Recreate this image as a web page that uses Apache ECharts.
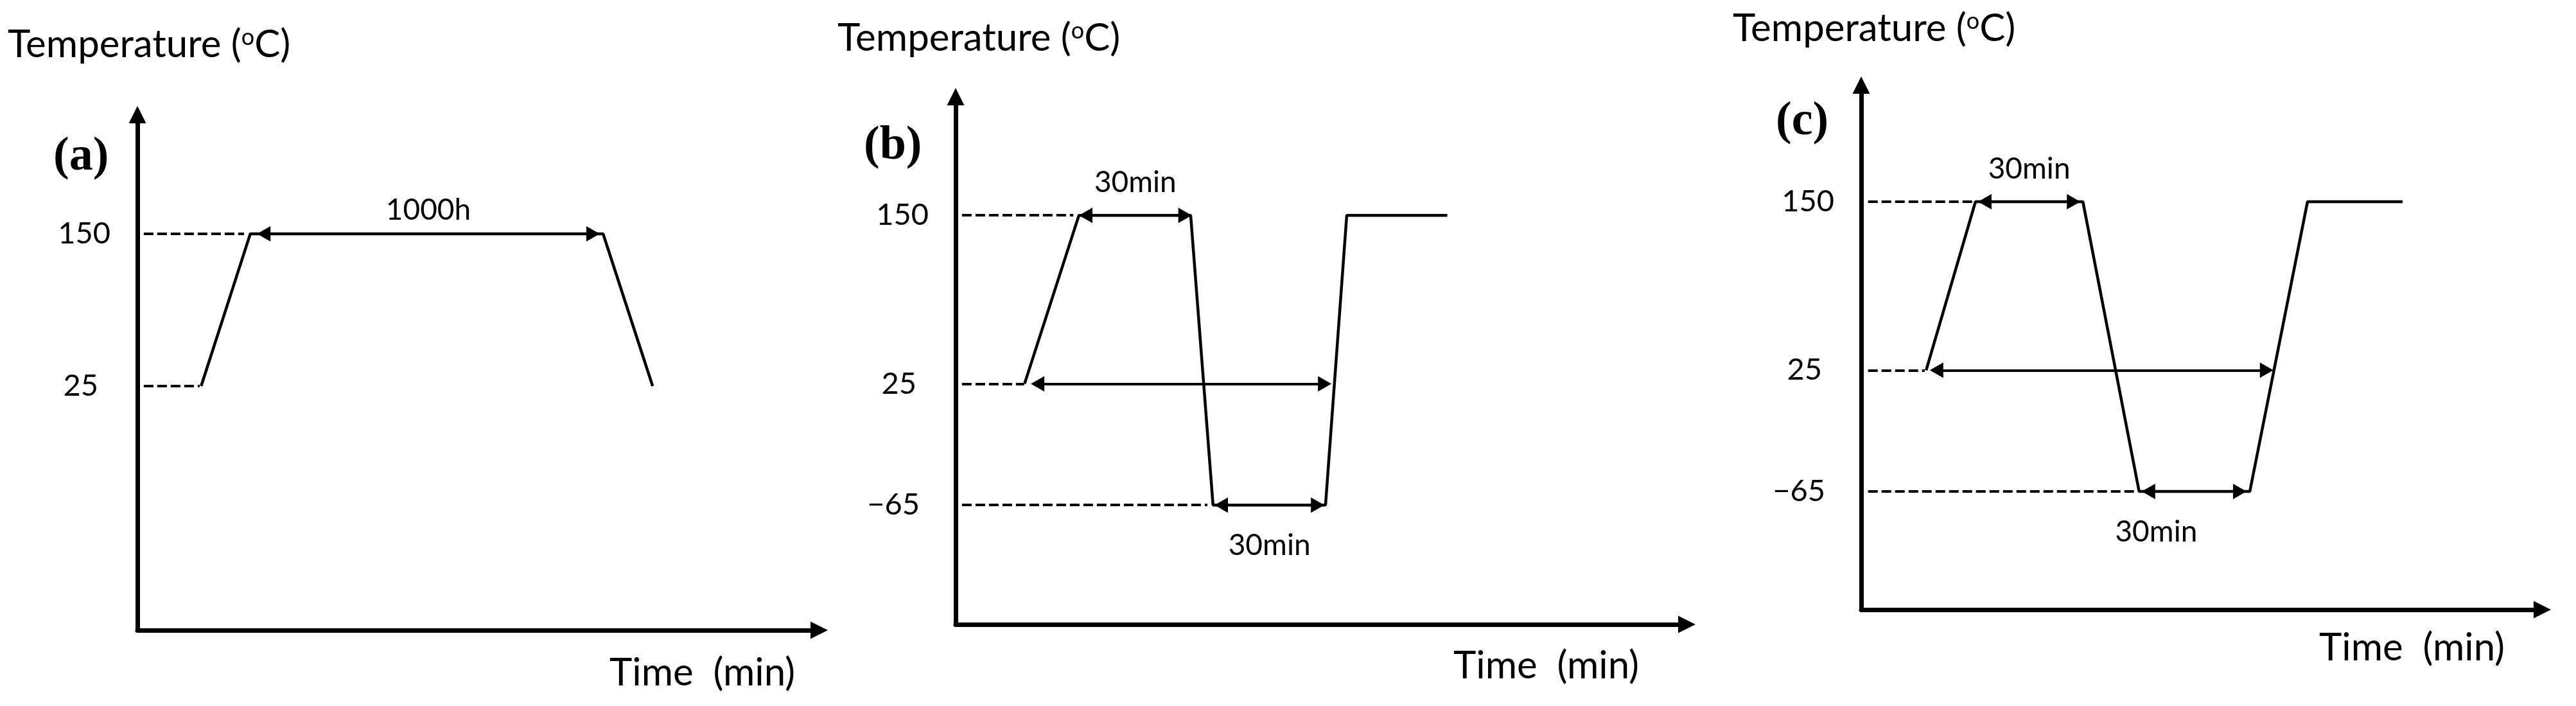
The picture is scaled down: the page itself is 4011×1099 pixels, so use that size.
<!DOCTYPE html>
<html><head><meta charset="utf-8">
<script src="https://cdn.jsdelivr.net/npm/echarts@6/dist/echarts.min.js"></script>
<style>html,body{margin:0;padding:0;background:#fff}#c{width:4011px;height:1099px}</style>
</head><body><div id="c"></div>
<script>
// ---------------- data ----------------
const panelLetters = ['(a)', '(b)', '(c)'];
const yTitle = 'Temperature';
const xTitle = 'Time  (min)';
const yTicksA = [150, 25];
const yTicksBC = [150, 25, -65];
// temperature profiles [time, temperature]
const profileA = [[17.1, 25], [30.3, 150], [125, 150], [138.3, 25]];
const profileB = [[18.5, 25], [33.1, 150], [63.1, 150], [69.1, -65], [99.3, -65], [105, 150], [132, 150]];
const profileC = [[17.9, 25], [31.5, 150], [61.1, 150], [76.6, -65], [107.1, -65], [123, 150], [149.2, 150]];
// dashed guide lines [level, xStart, xEnd]
const guidesA = [[150, 1.7, 28.6], [25, 1.7, 16.7]];
const guidesB = [[150, 1.7, 31.6], [25, 1.7, 18.4], [-65, 1.7, 67.6]];
const guidesC = [[150, 1.9, 30.8], [25, 1.9, 17.5], [-65, 1.9, 75.9]];
// dimension arrows [level, xStart, xEnd, label]
const arrowsA = [[150, 32.1, 124.1, '1000h']];
const arrowsB = [[150, 33.1, 63.4, '30min'], [25, 20.2, 100.9, ''], [-65, 69.5, 99.0, '30min']];
const arrowsC = [[150, 32.2, 60.4, '30min'], [25, 18.9, 113.6, ''], [-65, 77.3, 106.2, '30min']];
// axis ranges
const xMax = [183, 196.3, 187.7];
const yMin = [-175.4, -153.5, -152.7];
const yMax = [247.8, 238, 236.5];

// ---------------- layout / style ----------------
const FONT = 'Lato';
const grids = [
  { left: 214, top: 178.5, width: 1061.5, height: 802.4 },
  { left: 1488, top: 150.5, width: 1138.5, height: 821.4 },
  { left: 2898, top: 132.5, width: 1060.5, height: 816.6 }
];
const labelCfg = [
  { top: { dist: 14, pad: [0, 0, 0, 0] }, bottom: null },
  { top: { dist: 28, pad: [0, 0, 0, 0] }, bottom: { dist: 40, pad: [0, 0, 0, 0] } },
  { top: { dist: 28, pad: [0, 0, 0, 0] }, bottom: { dist: 40, pad: [0, 118, 0, 0] } }
];
const titlePos = [
  { yx: 12, yy: 70, lx: 83, ly: 245, tx: 949, ty: 1048 },
  { yx: 1304, yy: 60, lx: 1345, ly: 228, tx: 2263, ty: 1037 },
  { yx: 2698, yy: 45, lx: 2765, ly: 190, tx: 3611, ty: 1009 }
];
const ARROW_LEN = 21, ARROW_W = 24;

const profiles = [profileA, profileB, profileC];
const guides = [guidesA, guidesB, guidesC];
const arrows = [arrowsA, arrowsB, arrowsC];
const ticks = [yTicksA, yTicksBC, yTicksBC];

function fmtTick(v) {
  const s = v < 0 ? '\u2212' + Math.abs(v) : String(v);
  if (v === 150) return '{p0|' + s + '}';
  if (v === 25) return '{p1|' + s + '}';
  return '{p2|' + s + '}';
}

const xAxes = [], yAxes = [], series = [], graphic = [];
for (let i = 0; i < 3; i++) {
  xAxes.push({
    type: 'value', gridIndex: i, min: 0, max: xMax[i],
    axisLine: { show: true, onZero: false, symbol: ['none', 'triangle'], symbolSize: [27, 27],
      lineStyle: { color: '#000', width: 7 } },
    axisTick: { show: false }, axisLabel: { show: false }, splitLine: { show: false }
  });
  yAxes.push({
    type: 'value', gridIndex: i, min: yMin[i], max: yMax[i],
    axisLine: { show: true, onZero: false, symbol: ['none', 'triangle'], symbolSize: [27, 27],
      lineStyle: { color: '#000', width: 7 } },
    axisTick: { show: false }, splitLine: { show: false },
    axisLabel: {
      show: true, customValues: ticks[i], margin: 42, formatter: fmtTick,
      color: '#000', fontFamily: FONT, fontSize: 47,
      rich: {
        p0: { fontFamily: FONT, fontSize: 47, color: '#000', padding: [0, 0, 0, 0] },
        p1: { fontFamily: FONT, fontSize: 47, color: '#000', padding: [0, 19, 0, 0] },
        p2: { fontFamily: FONT, fontSize: 47, color: '#000', padding: [0, 14, 0, 0] }
      }
    }
  });

  const inset = (ARROW_LEN / 2) * xMax[i] / grids[i].width;
  const mlData = [];
  guides[i].forEach(g => {
    mlData.push([
      { coord: [g[1], g[0]], symbol: 'none', lineStyle: { type: [15, 6], width: 4, color: '#000' }, label: { show: false } },
      { coord: [g[2], g[0]], symbol: 'none' }
    ]);
  });
  arrows[i].forEach(a => {
    const isBottom = a[0] < 0;
    const lc = isBottom ? labelCfg[i].bottom : labelCfg[i].top;
    mlData.push([
      {
        coord: [a[1] + inset, a[0]], symbol: 'triangle',
        lineStyle: { type: 'solid', width: 4, color: '#000' },
        label: a[3] ? {
          show: true, formatter: a[3], position: isBottom ? 'insideMiddleBottom' : 'insideMiddleTop',
          distance: lc.dist, padding: lc.pad, color: '#000', fontFamily: FONT, fontSize: 46
        } : { show: false }
      },
      { coord: [a[2] - inset, a[0]], symbol: 'triangle' }
    ]);
  });

  series.push({
    type: 'line', xAxisIndex: i, yAxisIndex: i, data: profiles[i],
    showSymbol: false, symbol: 'none', silent: true, animation: false,
    lineStyle: { color: '#000', width: 4.5 },
    markLine: {
      silent: true, animation: false,
      symbol: ['triangle', 'triangle'], symbolSize: [ARROW_W, ARROW_LEN],
      emphasis: { disabled: true },
      data: mlData
    }
  });

  const tp = titlePos[i];
  graphic.push({
    type: 'text', x: tp.yx, y: tp.yy, silent: true,
    style: {
      text: '{n|' + yTitle + ' (}{s|o}{n|C)}', textVerticalAlign: 'middle', textAlign: 'left',
      rich: {
        n: { fontFamily: FONT, fontSize: 60, lineHeight: 68, fill: '#000' },
        s: { fontFamily: FONT, fontSize: 36, lineHeight: 68, verticalAlign: 'top', fill: '#000', padding: [4, 0, 0, 0] }
      }
    }
  });
  graphic.push({
    type: 'text', x: tp.lx, y: tp.ly, silent: true,
    style: { text: panelLetters[i], font: 'bold 74px "Liberation Serif"', fill: '#000', textVerticalAlign: 'middle', textAlign: 'left' }
  });
  graphic.push({
    type: 'text', x: tp.tx, y: tp.ty, silent: true,
    style: { text: xTitle, font: '60px ' + FONT, fill: '#000', textVerticalAlign: 'middle', textAlign: 'left' }
  });
}

const chart = echarts.init(document.getElementById('c'), null, { renderer: 'canvas' });
chart.setOption({
  animation: false,
  backgroundColor: '#fff',
  grid: grids,
  xAxis: xAxes,
  yAxis: yAxes,
  series: series,
  graphic: graphic
});
</script></body></html>
